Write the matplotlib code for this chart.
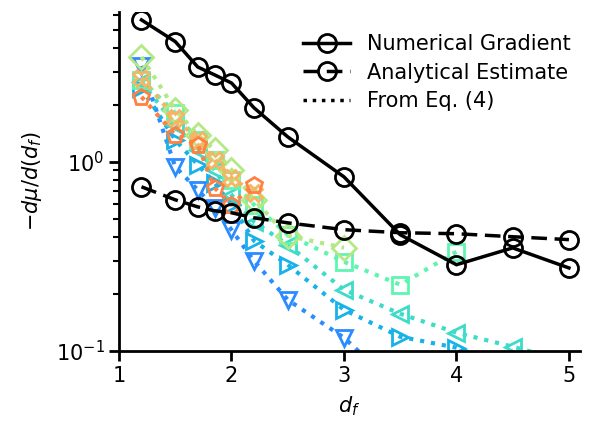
import matplotlib
matplotlib.use("Agg")
import matplotlib.pyplot as plt

# Black reference curves
df_all = [1.2, 1.5, 1.7, 1.85, 2.0, 2.2, 2.5, 3.0, 3.5, 4.0, 4.5, 5.0]
numerical = [5.62, 4.32, 3.17, 2.88, 2.61, 1.93, 1.355, 0.833, 0.412, 0.286, 0.351, 0.275]
analytical = [0.738, 0.63, 0.578, 0.551, 0.538, 0.506, 0.476, 0.438, 0.422, 0.417, 0.402, 0.388]

# Coloured "From Eq. (4)" series
x_v = [1.2, 1.5, 1.7, 1.85, 2.0, 2.2, 2.5, 3.0, 3.5]
y_v = [3.21, 0.941, 0.711, 0.572, 0.4375, 0.300, 0.1868, 0.1177, 0.0625]

x_r = [1.2, 1.5, 1.7, 1.85, 2.0, 2.2, 2.5, 3.0, 3.5, 4.0, 4.5]
y_r = [2.459, 1.307, 0.964, 0.775, 0.593, 0.3827, 0.286, 0.1654, 0.1191, 0.1042, 0.0817]

x_l = [1.2, 1.5, 1.7, 1.85, 2.0, 2.2, 2.5, 3.0, 3.5, 4.0, 4.5, 5.0]
y_l = [2.645, 1.568, 1.157, 0.907, 0.669, 0.482, 0.3645, 0.211, 0.1576, 0.1251, 0.1055, 0.0879]

x_s = [1.2, 1.5, 1.7, 1.85, 2.0, 2.2, 2.5, 3.0, 3.5, 4.0]
y_s = [2.71, 1.814, 1.307, 1.025, 0.803, 0.593, 0.4118, 0.2965, 0.2242, 0.3348]

x_d = [1.2, 1.5, 1.7, 1.85, 2.0, 2.2, 2.5, 3.0]
y_d = [3.584, 1.882, 1.388, 1.157, 0.907, 0.630, 0.4067, 0.3515]

x_x = [1.2, 1.5, 1.7, 1.85, 2.0, 2.2]
y_x = [2.777, 1.707, 1.307, 1.025, 0.823, 0.686]

x_p = [1.2, 1.5, 1.7, 1.85, 2.0, 2.2]
y_p = [2.204, 1.388, 1.229, 0.729, 0.593, 0.756]

series = [
    (x_v, y_v, 'v', '#2b8cff'),
    (x_r, y_r, '>', '#17b2e8'),
    (x_l, y_l, '<', '#3ddbc8'),
    (x_s, y_s, 's', '#5ef5b0'),
    (x_d, y_d, 'D', '#b4e884'),
    (x_x, y_x, 'X', '#f7b463'),
    (x_p, y_p, 'p', '#ff8040'),
]

fig = plt.figure(figsize=(5.89, 4.23), dpi=100)
ax = fig.add_axes([0.202, 0.170, 0.783, 0.802])

for xs, ys, m, c in series:
    ax.plot(xs, ys, ls=':', lw=3, marker=m, ms=12, mfc='none', mec=c,
            mew=2, color=c, zorder=2)

ax.plot(df_all, numerical, '-', color='k', lw=2.5, marker='o', ms=13,
        mfc='none', mew=2, label='Numerical Gradient', zorder=5)
ax.plot(df_all, analytical, color='k', lw=2.5, dashes=(4.5, 2.2), marker='o',
        ms=13, mfc='none', mew=2, label='Analytical Estimate', zorder=5)
ax.plot([], [], ':', color='k', lw=2.5, label='From Eq. (4)')

ax.set_yscale('log')
ax.set_ylim(0.1, 6.2)
ax.set_xlim(1, 5.1)
ax.set_xticks([1, 2, 3, 4, 5])

for side in ['top', 'right']:
    ax.spines[side].set_visible(False)
for side in ['left', 'bottom']:
    ax.spines[side].set_linewidth(2)

ax.tick_params(axis='both', which='major', labelsize=15, width=2, length=7)
ax.tick_params(axis='both', which='minor', width=1.5, length=4)

ax.set_xlabel(r'$d_f$', fontsize=15, labelpad=6)
ax.set_ylabel(r'$-d\mu/d(d_f)$', fontsize=15, labelpad=8)

ax.legend(loc='upper right', bbox_to_anchor=(1.02, 0.99), frameon=False,
          fontsize=15, handlelength=2.25, labelspacing=0.42)

fig.savefig('out.png', dpi=100)
